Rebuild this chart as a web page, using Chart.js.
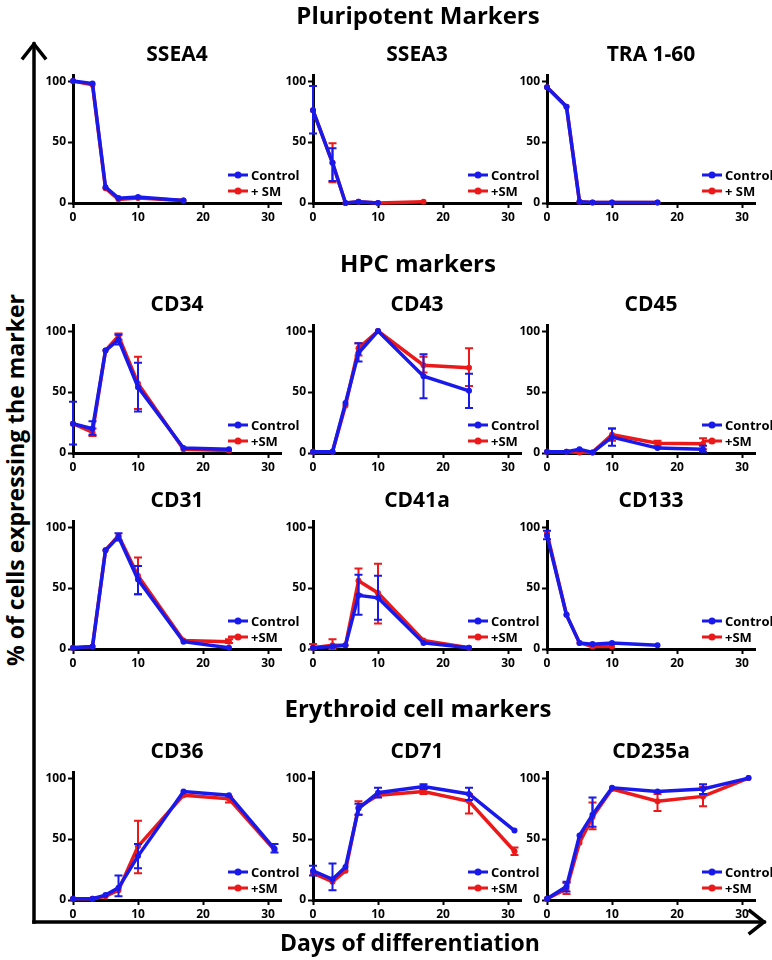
<!DOCTYPE html>
<html lang="en">
<head>
<meta charset="UTF-8">
<title>Marker expression during differentiation</title>
<script src="https://cdn.jsdelivr.net/npm/chart.js"></script>
<style>
  body { margin: 0; background: #fff; font-family: 'Open Sans', sans-serif; }
  #page { position: relative; width: 772px; height: 960px; overflow: hidden; }
  .section, .title, .axis-label { position: absolute; font-weight: bold; color: #000; white-space: nowrap; transform: translate(-50%, -50%); }
  .section { font-size: 24px; }
  .title { font-size: 21px; }
  .axis-label { font-size: 23px; }
  .panel { position: absolute; }
  .legend { position: absolute; font-weight: bold; font-size: 13px; line-height: 16px; }
  .legend div { display: flex; align-items: center; }
  .legend svg { margin-right: 3px; }
  #arrows { position: absolute; left: 0; top: 0; }
</style>
</head>
<body>
<div id="page">
  <svg id="arrows" width="772" height="960"></svg>
</div>
<script>
// days of differentiation (x positions shared by every panel)
const days = [0, 3, 5, 7, 10, 17, 24, 31];
const xTicks = [0, 10, 20, 30];
const yTicks = [0, 50, 100];

// values per marker, aligned to days; null = not measured
const ssea4Ctrl = [100, 98, 13, 4, 5, 2, null, null];
const ssea4Sm   = [100, 97, 12, 3, 4, 2, null, null];
const ssea3Ctrl = [76, 33, 0, 1, 0, null, null, null];
const ssea3Sm   = [76, 33, 0, 1, 0, 1, null, null];
const ssea3CtrlErr = [[57, 96], [18, 45], null, null, null, null, null, null];
const ssea3SmErr   = [null, [17, 49], null, null, null, null, null, null];
const tra160Ctrl = [95, 79, 1, 0.5, 0.5, 0.5, null, null];
const tra160Sm   = [95, 79, 1, 0.5, 0.5, 0.5, null, null];

const cd34Ctrl = [24, 20, 84, 93, 54, 4, 3, null];
const cd34Sm   = [24, 17, 84, 96, 57, 3, 2, null];
const cd34CtrlErr = [[7, 42], [15, 26], null, [89, 97], [34, 74], null, null, null];
const cd34SmErr   = [null, [14, 20], null, [93, 98], [36, 79], null, null, null];
const cd43Ctrl = [1, 1, 41, 82, 100, 63, 51, null];
const cd43Sm   = [1, 1, 39, 86, 100, 72, 70, null];
const cd43CtrlErr = [null, null, null, [75, 90], null, [45, 81], [37, 65], null];
const cd43SmErr   = [null, null, null, [80, 90], null, [66, 79], [55, 86], null];
const cd45Ctrl = [1, 1, 3, 0.5, 13, 4, 3, null];
const cd45Sm   = [1, 1, 0.5, 0.5, 15, 8, 7.5, null];
const cd45CtrlErr = [null, null, null, null, [6, 20], null, [1, 6], null];
const cd45SmErr   = [null, null, null, null, [10, 20], [6, 10], [3, 12], null];

const cd31Ctrl = [1, 2, 81, 92, 57, 6, 1, null];
const cd31Sm   = [1, 2, 81, 93, 60, 7, 6, null];
const cd31CtrlErr = [null, null, null, [89, 95], [45, 68], null, null, null];
const cd31SmErr   = [null, null, null, null, [45, 75], null, [5, 8], null];
const cd41aCtrl = [1, 2, 3, 44, 42, 5, 1, null];
const cd41aSm   = [1, 3, 3, 56, 46, 7, 1, null];
const cd41aCtrlErr = [null, null, null, [28, 61], [24, 60], null, null, null];
const cd41aSmErr   = [[0, 4], [0, 8], null, [45, 66], [21, 70], null, null, null];
const cd133Ctrl = [93, 28, 5, 4, 5, 3, null, null];
const cd133Sm   = [95, 28, 5, 2, 2, null, null, null];
const cd133CtrlErr = [[90, 97], null, null, null, null, null, null, null];

const cd36Ctrl = [1, 1, 4, 10, 36, 89, 86, 42];
const cd36Sm   = [1, 1, 3, 8, 44, 86, 83, 41];
const cd36CtrlErr = [null, null, null, [3, 20], [26, 46], null, null, [39, 46]];
const cd36SmErr   = [null, null, null, null, [22, 65], null, [80, 85], null];
const cd71Ctrl = [24, 17, 27, 75, 88, 93, 87, 57];
const cd71Sm   = [22, 15, 24, 76, 86, 89, 81, 40];
const cd71CtrlErr = [[20, 28], [8, 30], null, [70, 79], [84, 92], [91, 95], [82, 92], null];
const cd71SmErr   = [null, null, null, [70, 81], null, [87, 91], [71, 87], [37, 43]];
const cd235aCtrl = [1, 11, 53, 70, 92, 89, 91, 100];
const cd235aSm   = [1, 9, 47, 68, 91, 81, 85, 100];
const cd235aCtrlErr = [null, [7, 15], null, [60, 84], null, null, [87, 95], null];
const cd235aSmErr   = [null, [5, 14], null, [58, 80], null, [73, 87], [77, 93], null];

const sections = ['Pluripotent Markers', 'HPC markers', 'Erythroid cell markers'];

const BLUE = 'rgb(25,25,235)';
const RED = 'rgb(235,25,25)';

// layout
const colX = [73, 313, 547];           // pixel of day 0 in each column
const rowY = [203, 453, 649, 900];     // pixel of 0 % in each row
const AXIS_W = 40, AXIS_H = 24, PAD_T = 14, PAD_R = 14;
const PLOT_W = 208, PLOT_H = 128;      // 0..32 days, 0..105 %

const panels = [
  { t: 'SSEA4', r: 0, c: 0, ctrl: ssea4Ctrl, sm: ssea4Sm, smLabel: '+ SM' },
  { t: 'SSEA3', r: 0, c: 1, ctrl: ssea3Ctrl, sm: ssea3Sm, ctrlErr: ssea3CtrlErr, smErr: ssea3SmErr },
  { t: 'TRA 1-60', r: 0, c: 2, ctrl: tra160Ctrl, sm: tra160Sm, smLabel: '+ SM' },
  { t: 'CD34', r: 1, c: 0, ctrl: cd34Ctrl, sm: cd34Sm, ctrlErr: cd34CtrlErr, smErr: cd34SmErr },
  { t: 'CD43', r: 1, c: 1, ctrl: cd43Ctrl, sm: cd43Sm, ctrlErr: cd43CtrlErr, smErr: cd43SmErr },
  { t: 'CD45', r: 1, c: 2, ctrl: cd45Ctrl, sm: cd45Sm, ctrlErr: cd45CtrlErr, smErr: cd45SmErr },
  { t: 'CD31', r: 2, c: 0, ctrl: cd31Ctrl, sm: cd31Sm, ctrlErr: cd31CtrlErr, smErr: cd31SmErr },
  { t: 'CD41a', r: 2, c: 1, ctrl: cd41aCtrl, sm: cd41aSm, ctrlErr: cd41aCtrlErr, smErr: cd41aSmErr },
  { t: 'CD133', r: 2, c: 2, ctrl: cd133Ctrl, sm: cd133Sm, ctrlErr: cd133CtrlErr },
  { t: 'CD36', r: 3, c: 0, ctrl: cd36Ctrl, sm: cd36Sm, ctrlErr: cd36CtrlErr, smErr: cd36SmErr },
  { t: 'CD71', r: 3, c: 1, ctrl: cd71Ctrl, sm: cd71Sm, ctrlErr: cd71CtrlErr, smErr: cd71SmErr },
  { t: 'CD235a', r: 3, c: 2, ctrl: cd235aCtrl, sm: cd235aSm, ctrlErr: cd235aCtrlErr, smErr: cd235aSmErr }
];

const page = document.getElementById('page');

function addText(cls, text, x, y, rot) {
  const el = document.createElement('div');
  el.className = cls;
  el.textContent = text;
  el.style.left = x + 'px';
  el.style.top = y + 'px';
  if (rot) el.style.transform = 'translate(-50%, -50%) rotate(' + rot + 'deg)';
  page.appendChild(el);
}

// error bars drawn right after their own line, through the chart scales
const errorBars = {
  id: 'errorBars',
  afterDatasetDraw(chart, args) {
    const ds = chart.data.datasets[args.index];
    if (!ds.errors) return;
    const xs = chart.scales.x, ys = chart.scales.y, ctx = chart.ctx;
    ctx.save();
    ctx.strokeStyle = ds.borderColor;
    ctx.lineWidth = 2;
    ds.errors.forEach((e, i) => {
      if (!e) return;
      const px = xs.getPixelForValue(days[i]);
      const lo = ys.getPixelForValue(e[0]), hi = ys.getPixelForValue(e[1]);
      ctx.beginPath();
      ctx.moveTo(px, lo); ctx.lineTo(px, hi);
      ctx.moveTo(px - 4, lo); ctx.lineTo(px + 4, lo);
      ctx.moveTo(px - 4, hi); ctx.lineTo(px + 4, hi);
      ctx.stroke();
    });
    ctx.restore();
  }
};

function series(vals, errs, color, order) {
  return {
    data: days.map((d, i) => ({ x: d, y: vals[i] })).filter(p => p.y !== null),
    errors: errs,
    order: order,
    borderColor: color,
    backgroundColor: color,
    borderWidth: 3.5,
    pointRadius: 3,
    pointBorderWidth: 0,
    pointBackgroundColor: color,
    tension: 0,
    clip: false
  };
}

const axisStyle = {
  grid: { display: true, drawOnChartArea: false, drawTicks: true, tickLength: 5, tickWidth: 2, color: '#000' },
  border: { display: true, width: 3, color: '#000' },
  ticks: { color: '#000', padding: 2, font: { family: "'Open Sans', sans-serif", weight: 'bold', size: 12 } }
};

function makePanel(p) {
  const x0 = colX[p.c], y0 = rowY[p.r];
  const canvas = document.createElement('canvas');
  canvas.className = 'panel';
  canvas.width = AXIS_W + PLOT_W + PAD_R;
  canvas.height = PAD_T + PLOT_H + AXIS_H;
  canvas.style.left = (x0 - AXIS_W) + 'px';
  canvas.style.top = (y0 - PLOT_H - PAD_T) + 'px';
  page.appendChild(canvas);

  // control (order 0) is drawn last, on top of +SM
  new Chart(canvas, {
    type: 'line',
    data: { datasets: [series(p.ctrl, p.ctrlErr, BLUE, 0), series(p.sm, p.smErr, RED, 1)] },
    options: {
      responsive: false,
      animation: false,
      devicePixelRatio: 1,
      layout: { padding: { top: PAD_T, right: PAD_R, left: 0, bottom: 0 } },
      plugins: { legend: { display: false }, tooltip: { enabled: false } },
      scales: {
        x: Object.assign({}, axisStyle, {
          type: 'linear', min: 0, max: 32,
          afterFit: s => { s.height = AXIS_H; },
          afterBuildTicks: s => { s.ticks = xTicks.map(v => ({ value: v })); }
        }),
        y: Object.assign({}, axisStyle, {
          type: 'linear', min: 0, max: 105,
          afterFit: s => { s.width = AXIS_W; },
          afterBuildTicks: s => { s.ticks = yTicks.map(v => ({ value: v })); }
        })
      }
    },
    plugins: [errorBars]
  });

  addText('title', p.t, x0 + PLOT_W / 2, y0 - 150);

  // legend
  const lg = document.createElement('div');
  lg.className = 'legend';
  lg.style.left = (x0 + 155) + 'px';
  lg.style.top = (y0 - 36) + 'px';
  const sw = c => '<svg width="20" height="8"><line x1="0" y1="4" x2="20" y2="4" stroke="' + c +
    '" stroke-width="3"/><circle cx="10" cy="4" r="3.5" fill="' + c + '"/></svg>';
  lg.innerHTML = '<div>' + sw(BLUE) + 'Control</div><div>' + sw(RED) + (p.smLabel || '+SM') + '</div>';
  page.appendChild(lg);
}

panels.forEach(makePanel);

addText('section', sections[0], 418, 14);
addText('section', sections[1], 418, 262);
addText('section', sections[2], 418, 707);
addText('axis-label', '% of cells expressing the marker', 15, 480, -90);
addText('axis-label', 'Days of differentiation', 410, 942);

// big axis arrows
document.getElementById('arrows').innerHTML =
  '<g stroke="#000" stroke-width="3.5" fill="none" stroke-linecap="square">' +
  '<line x1="34" y1="44" x2="34" y2="922"/>' +
  '<polyline points="23,58 34,44 45,58"/>' +
  '<line x1="34" y1="922" x2="764" y2="922"/>' +
  '<polyline points="750,911 764,922 750,933"/></g>';
</script>
</body>
</html>
